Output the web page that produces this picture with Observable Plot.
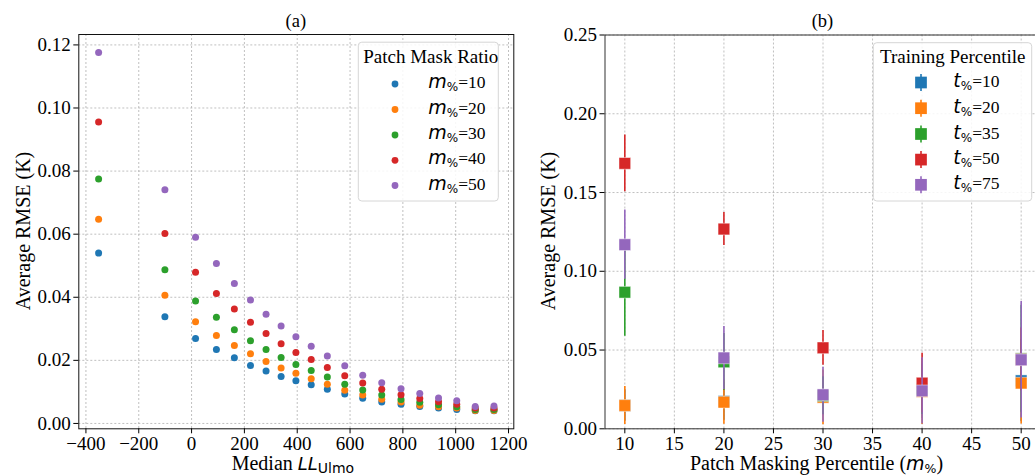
<!DOCTYPE html>
<html><head><meta charset="utf-8">
<script src="https://cdn.jsdelivr.net/npm/d3@7"></script>
<script src="https://cdn.jsdelivr.net/npm/@observablehq/plot@0.6"></script>
<style>
html,body{margin:0;padding:0;background:#fff;}
#wrap{position:relative;width:1035px;height:475px;overflow:hidden;background:#fff;}
#wrap > svg{position:absolute;top:0;}
</style></head><body><div id="wrap"></div>
<script>
// ---------- Panel (a) data ----------
const medianLL = [-352, -101, 15, 94, 162, 223, 282, 339, 395, 453, 514, 580, 648, 720, 793, 864, 935, 1004, 1074, 1145];
const rmseM10 = [0.0540, 0.0338, 0.0269, 0.0234, 0.0208, 0.0184, 0.0166, 0.0149, 0.0135, 0.0123, 0.0108, 0.0093, 0.0080, 0.0068, 0.0061, 0.0054, 0.0049, 0.0044, 0.0040, 0.0040];
const rmseM20 = [0.0647, 0.0406, 0.0322, 0.0279, 0.0247, 0.0221, 0.0196, 0.0176, 0.0159, 0.0142, 0.0124, 0.0105, 0.0090, 0.0077, 0.0068, 0.0058, 0.0053, 0.0049, 0.0041, 0.0041];
const rmseM30 = [0.0775, 0.0487, 0.0388, 0.0337, 0.0297, 0.0262, 0.0234, 0.0209, 0.0187, 0.0168, 0.0147, 0.0124, 0.0106, 0.0090, 0.0076, 0.0067, 0.0059, 0.0053, 0.0044, 0.0044];
const rmseM40 = [0.0956, 0.0602, 0.0479, 0.0412, 0.0363, 0.0321, 0.0285, 0.0253, 0.0225, 0.0203, 0.0177, 0.0151, 0.0128, 0.0108, 0.0091, 0.0079, 0.0069, 0.0061, 0.0049, 0.0049];
const rmseM50 = [0.1176, 0.0741, 0.0590, 0.0507, 0.0444, 0.0391, 0.0346, 0.0309, 0.0275, 0.0245, 0.0214, 0.0183, 0.0153, 0.0129, 0.0110, 0.0095, 0.0081, 0.0072, 0.0054, 0.0055];
const maskLabels = ["10", "20", "30", "40", "50"];
const leftXTicks = [-400, -200, 0, 200, 400, 600, 800, 1000, 1200];
const leftYTicks = [0, 0.02, 0.04, 0.06, 0.08, 0.10, 0.12];

// ---------- Panel (b) data ----------
const maskPercentile = [10, 20, 30, 40, 50];
const trainLabels = ["10", "20", "35", "50", "75"];
const meanT10 = [0.0148, 0.0174, 0.0205, 0.0245, 0.0305];
const errT10  = [0.010, 0.012, 0.012, 0.018, 0.026];
const meanT20 = [0.0148, 0.0169, 0.0200, 0.0237, 0.0290];
const errT20  = [0.012, 0.014, 0.0174, 0.021, 0.026];
const meanT35 = [0.0867, 0.0425, 0.0210, 0.0250, 0.0445];
const errT35  = [0.028, 0.018, 0.012, 0.016, 0.034];
const meanT50 = [0.1685, 0.1268, 0.0514, 0.0290, 0.0440];
const errT50  = [0.018, 0.0105, 0.011, 0.019, 0.020];
const meanT75 = [0.1169, 0.0450, 0.0216, 0.0241, 0.0438];
const errT75  = [0.022, 0.020, 0.0175, 0.021, 0.037];
const rightXTicks = [10, 15, 20, 25, 30, 35, 40, 45, 50];
const rightYTicks = [0, 0.05, 0.10, 0.15, 0.20, 0.25];

const tab10 = ["#1f77b4", "#ff7f0e", "#2ca02c", "#d62728", "#9467bd"];

const serif = "'Liberation Serif', 'Times New Roman', serif";
const gridOpts = {stroke: "#b0b0b0", strokeOpacity: 1, strokeDasharray: "2,2", strokeWidth: 0.8};
const baseStyle = {fontFamily: serif, fontSize: "19px", color: "#000", background: "transparent", overflow: "visible"};

// ---------- Panel (a) ----------
const leftSeries = [rmseM10, rmseM20, rmseM30, rmseM40, rmseM50];
const leftRows = [];
leftSeries.forEach((vals, i) => medianLL.forEach((x, j) => leftRows.push({x, y: vals[j], m: maskLabels[i]})));

const W1 = 530;
const left = Plot.plot({
  width: W1, height: 475,
  marginLeft: 78.3, marginRight: W1 - 513.3, marginTop: 34, marginBottom: 475 - 428.3,
  style: baseStyle,
  x: {domain: [-427, 1220]},
  y: {domain: [-0.0017, 0.1233]},
  color: {domain: maskLabels, range: tab10},
  marks: [
    Plot.gridX({...gridOpts, ticks: leftXTicks}),
    Plot.gridY({...gridOpts, ticks: leftYTicks}),
    Plot.dot(leftRows, {x: "x", y: "y", fill: "m", r: 3.5}),
    Plot.frame({stroke: "#111", strokeWidth: 1}),
    Plot.axisX({ticks: leftXTicks, tickSize: 5, tickPadding: 3, tickFormat: d3.format("d"), label: null}),
    Plot.axisY({ticks: leftYTicks, tickSize: 5, tickPadding: 3, tickFormat: d3.format(".2f"), label: null})
  ]
});
left.style.left = "0px";

// ---------- Panel (b) ----------
const means = [meanT10, meanT20, meanT35, meanT50, meanT75];
const errs = [errT10, errT20, errT35, errT50, errT75];
const rightMarks = [
  Plot.gridX({...gridOpts, ticks: rightXTicks}),
  Plot.gridY({...gridOpts, ticks: rightYTicks})
];
means.forEach((mv, i) => {
  const rows = maskPercentile.map((m, j) => ({m, v: mv[j], e: errs[i][j], t: trainLabels[i]}));
  rightMarks.push(Plot.ruleX(rows, {x: "m", y1: d => d.v - d.e, y2: d => d.v + d.e, stroke: "t", strokeWidth: 1.6}));
  rightMarks.push(Plot.dot(rows, {x: "m", y: "v", fill: "t", symbol: "square", r: 6.6, stroke: "#fff", strokeOpacity: 0.45, strokeWidth: 1}));
});
rightMarks.push(Plot.frame({stroke: "#333", strokeWidth: 1}));
rightMarks.push(Plot.axisX({ticks: rightXTicks, tickSize: 5, tickPadding: 3, tickFormat: d3.format("d"), label: null}));
rightMarks.push(Plot.axisY({ticks: rightYTicks, tickSize: 5, tickPadding: 3, tickFormat: d3.format(".2f"), label: null}));

const X0 = 540, W2 = 503;
const right = Plot.plot({
  width: W2, height: 475,
  marginLeft: 604.5 - X0, marginRight: X0 + W2 - 1040.5, marginTop: 34.5, marginBottom: 475 - 428.3,
  style: baseStyle,
  x: {domain: [8, 52]},
  y: {domain: [0, 0.25]},
  color: {domain: trainLabels, range: tab10},
  marks: rightMarks
});
right.style.left = X0 + "px";

const wrap = document.getElementById("wrap");
wrap.appendChild(left);
wrap.appendChild(right);

// ---------- Overlay: titles, axis labels, legends ----------
const NS = "http://www.w3.org/2000/svg";
const ov = document.createElementNS(NS, "svg");
ov.setAttribute("width", 1035); ov.setAttribute("height", 475);
ov.style.left = "0px"; ov.style.pointerEvents = "none";
ov.setAttribute("font-family", serif);
wrap.appendChild(ov);
function el(tag, attrs, parent = ov) {
  const e = document.createElementNS(NS, tag);
  for (const k in attrs) e.setAttribute(k, attrs[k]);
  parent.appendChild(e);
  return e;
}
function txt(attrs, parts, parent = ov) {
  const t = el("text", attrs, parent);
  for (const p of parts) {
    const s = el("tspan", p.a || {}, t);
    s.textContent = p.s;
  }
  return t;
}
const sans = "'DejaVu Sans', sans-serif";

// Titles
txt({x: 295.8, y: 26.5, "text-anchor": "middle", "font-size": 18.5}, [{s: "(a)"}]);
txt({x: 822.5, y: 26.5, "text-anchor": "middle", "font-size": 18.5}, [{s: "(b)"}]);

// Y labels
txt({transform: "translate(29.5,231) rotate(-90)", "text-anchor": "middle", "font-size": 20}, [{s: "Average RMSE (K)"}]);
txt({transform: "translate(554.5,231) rotate(-90)", "text-anchor": "middle", "font-size": 20}, [{s: "Average RMSE (K)"}]);

// X labels
txt({x: 231.7, y: 469.5, "font-size": 20}, [
  {s: "Median "},
  {s: "LL", a: {"font-family": sans, "font-style": "italic", "font-size": 18}},
  {s: "Ulmo", a: {"font-family": sans, "font-size": 14, dy: 3}}
]);
txt({x: 690, y: 469.5, "font-size": 20}, [
  {s: "Patch Masking Percentile ("},
  {s: "m", a: {"font-family": sans, "font-style": "italic", "font-size": 19}},
  {s: "%", a: {"font-family": sans, "font-size": 12.5, dy: 3}},
  {s: ")", a: {dy: -3}}
]);

// Legend (a)
el("rect", {x: 358.3, y: 42.2, width: 140, height: 158.8, rx: 3.5, fill: "#fff", "fill-opacity": 0.85, stroke: "#d6d6d6", "stroke-width": 1});
txt({x: 430.8, y: 62.7, "text-anchor": "middle", "font-size": 19}, [{s: "Patch Mask Ratio"}]);
const legY = [84, 109.5, 135, 160.3, 185.5];
maskLabels.forEach((lab, i) => {
  el("circle", {cx: 395, cy: legY[i], r: 3.4, fill: tab10[i]});
  txt({x: 428.3, y: legY[i] + 4, "font-size": 17.5}, [
    {s: "m", a: {"font-family": sans, "font-style": "italic", "font-size": 19}},
    {s: "%", a: {"font-family": sans, "font-size": 12, dy: 3}},
    {s: "=" + lab, a: {dy: -3}}
  ]);
});

// Legend (b)
el("rect", {x: 873.3, y: 42.7, width: 158.4, height: 158.3, rx: 3.5, fill: "#fff", "fill-opacity": 0.85, stroke: "#d6d6d6", "stroke-width": 1});
txt({x: 952.7, y: 63.3, "text-anchor": "middle", "font-size": 19}, [{s: "Training Percentile"}]);
const legY2 = [82.5, 108.2, 134, 159.6, 184.8];
trainLabels.forEach((lab, i) => {
  el("line", {x1: 921, x2: 921, y1: legY2[i] - 8.5, y2: legY2[i] + 8.5, stroke: tab10[i], "stroke-width": 1.6});
  el("rect", {x: 921 - 5.85, y: legY2[i] - 5.85, width: 11.7, height: 11.7, fill: tab10[i]});
  txt({x: 953.3, y: legY2[i] + 4.5, "font-size": 17.5}, [
    {s: "t", a: {"font-family": sans, "font-style": "italic", "font-size": 19}},
    {s: "%", a: {"font-family": sans, "font-size": 12, dy: 3}},
    {s: "=" + lab, a: {dy: -3}}
  ]);
});
</script>
</body></html>
